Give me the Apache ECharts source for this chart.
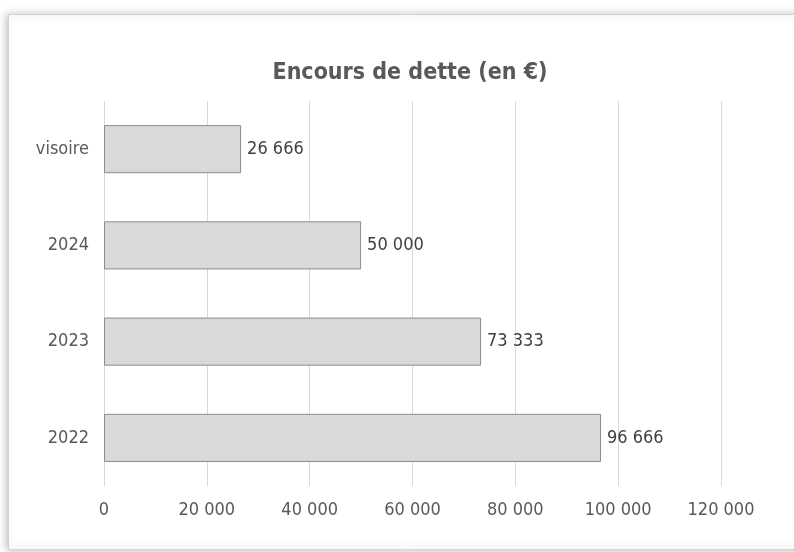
<!DOCTYPE html>
<html>
<head>
<meta charset="utf-8">
<script src="https://cdn.jsdelivr.net/npm/echarts@6/dist/echarts.min.js"></script>
<style>
  html, body { margin: 0; padding: 0; background: #fff; }
  #chart { width: 794px; height: 552px; }
</style>
</head>
<body>
<div id="chart"></div>
<script>
// categories, bottom to top
var categories = ['2022', '2023', '2024', 'visoire'];
var encours = [96666, 73333, 50000, 26666];
var xTicks = [0, 20000, 40000, 60000, 80000, 100000, 120000];

var font = '"DejaVu Sans Condensed", "Open Sans", sans-serif';

function frNumber(v) {
  return String(v).replace(/\B(?=(\d{3})+(?!\d))/g, ' ');
}

var chart = echarts.init(document.getElementById('chart'));
chart.setOption({
  animation: false,
  backgroundColor: '#fff',
  graphic: [{
    type: 'rect',
    left: 8,
    top: 14,
    shape: { width: 800, height: 535 },
    style: { fill: '#fff', stroke: '#d4d4d4', lineWidth: 1, shadowBlur: 8, shadowColor: 'rgba(0,0,0,0.25)', shadowOffsetX: -2 },
    z: -10
  }],
  title: {
    text: 'Encours de dette (en €)',
    left: 405,
    textAlign: 'center',
    top: 57,
    textStyle: { fontFamily: font, fontSize: 23, fontWeight: 'bold', color: '#595959' }
  },
  grid: { left: 104, right: 73, top: 101, bottom: 66 },
  xAxis: {
    type: 'value',
    min: 0,
    max: 120000,
    interval: 20000,
    axisLine: { show: false },
    axisTick: { show: false },
    axisLabel: {
      margin: 15,
      fontFamily: font,
      fontSize: 18,
      color: '#595959',
      formatter: function (v) { return xTicks.indexOf(v) >= 0 ? frNumber(v) : ''; }
    },
    splitLine: { lineStyle: { color: '#d9d9d9', width: 1 } }
  },
  yAxis: {
    type: 'category',
    data: categories,
    axisLine: { show: false },
    axisTick: { show: false },
    axisLabel: { margin: 15, fontFamily: font, fontSize: 18, color: '#595959' }
  },
  series: [{
    type: 'bar',
    data: encours,
    barWidth: '50%',
    itemStyle: { color: '#d9d9d9', borderColor: '#8c8c8c', borderWidth: 1 },
    label: {
      show: true,
      position: 'right',
      distance: 6,
      fontFamily: font,
      fontSize: 18,
      color: '#404040',
      formatter: function (p) { return frNumber(p.value); }
    }
  }]
});
</script>
</body>
</html>
